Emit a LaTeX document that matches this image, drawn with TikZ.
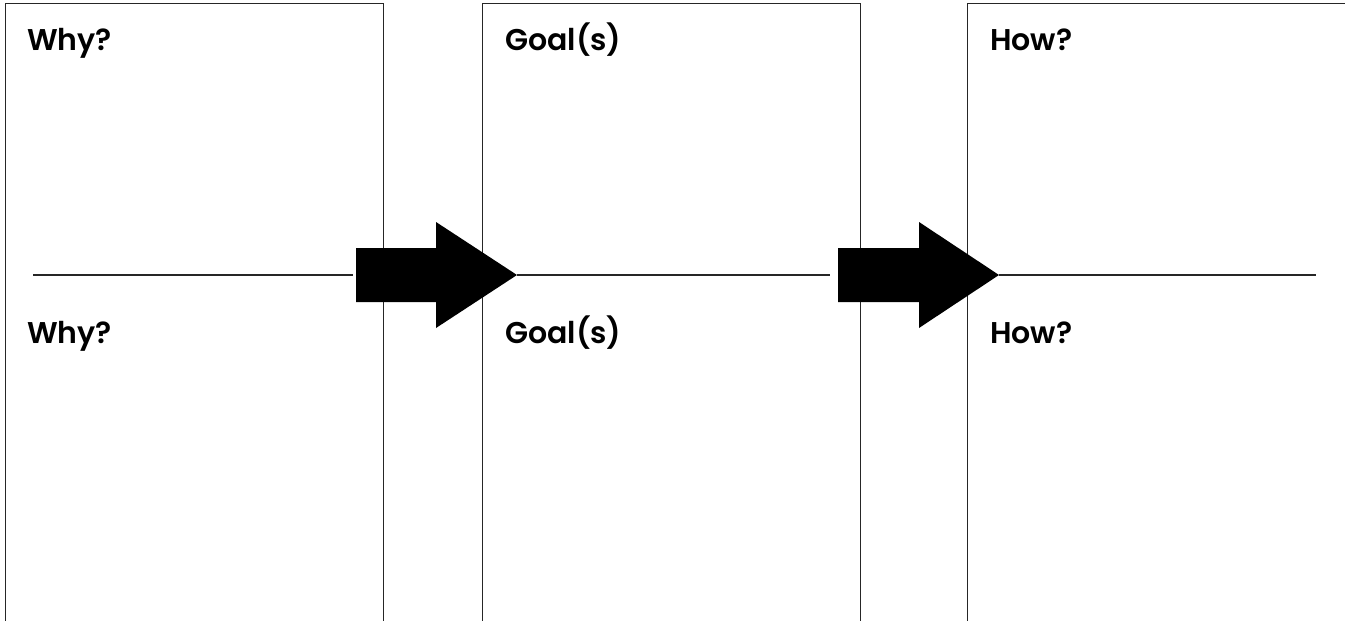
\documentclass[tikz,border=0pt]{standalone}
\usepackage{fontspec}
\setmainfont{Poppins}[BoldFont={* SemiBold}]
\begin{document}
\begin{tikzpicture}[x=1pt,y=-1pt,
  panel/.style={draw=black!85,line width=1pt},
  rule/.style={draw=black!85,line width=1.2pt},
  bigarrow/.style={fill=black,draw=none},
  label/.style={anchor=base west,inner sep=0pt,font=\fontsize{30}{34}\selectfont\bfseries}]
\useasboundingbox (0,0) rectangle (1345,621);
% panels
\draw[panel] (5,621) -- (5,3) -- (383,3) -- (383,621);
\draw[panel] (482,621) -- (482,3) -- (860,3) -- (860,621);
\draw[panel] (967,621) -- (967,3) -- (1345,3);
% arrows
\coordinate (a1tip) at (517,275);
\coordinate (a2tip) at (999,275);
\coordinate (a1tail) at (356,275);
\coordinate (a2tail) at (838,275);
\fill[bigarrow] (356,248) -- (436,248) -- (436,222) -- (a1tip) -- (436,328) -- (436,302) -- (356,302) -- cycle;
\fill[bigarrow] (838,248) -- (919,248) -- (919,222) -- (a2tip) -- (919,328) -- (919,302) -- (838,302) -- cycle;
% rules
\coordinate (r1s) at (33,275);
\coordinate (r1e) at (353,275);
\coordinate (r2e) at (830,275);
\coordinate (r3e) at (1316,275);
\draw[rule] (r1s) -- (r1e);
\draw[rule] (a1tip) -- (r2e);
\draw[rule] (a2tip) -- (r3e);
% labels
\node[label] (why1) at (27,50) {Why?};
\node[label] (why2) at (27,343) {Why?};
\node[label] (goal1) at (505,50) {Goal(s)};
\node[label] (goal2) at (505,343) {Goal(s)};
\node[label] (how1) at (990,50) {How?};
\node[label] (how2) at (990,343) {How?};
\end{tikzpicture}
\end{document}
